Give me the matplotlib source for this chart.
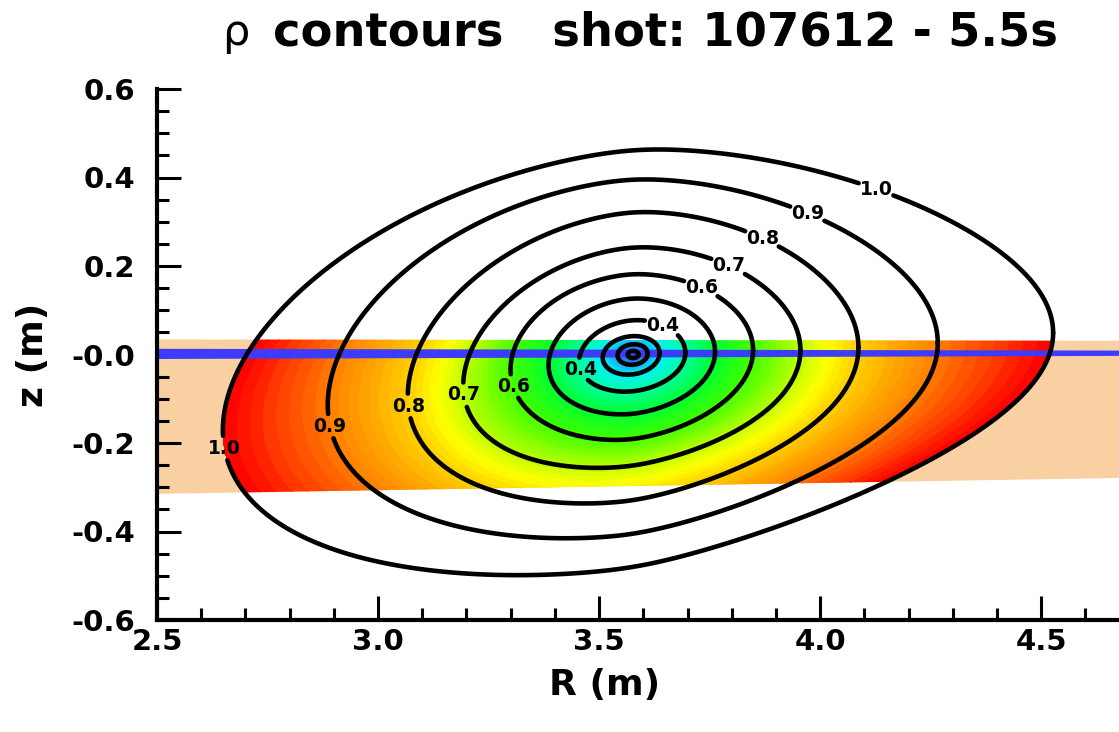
import numpy as np
import matplotlib
matplotlib.use("Agg")
import matplotlib.pyplot as plt
from matplotlib.colors import LinearSegmentedColormap
from matplotlib.patches import Polygon
from matplotlib.ticker import MultipleLocator

# ---------------- data ----------------
rho_levels  = [0.0, 0.1, 0.2, 0.3, 0.4, 0.5, 0.6, 0.7, 0.8, 0.9, 1.0]
flux_R0     = [3.577, 3.577, 3.576, 3.5725, 3.575, 3.574, 3.574, 3.574, 3.577, 3.576, 3.588]
flux_Z0     = [0.0, 0.0, 0.0, -0.002, -0.003, -0.004, -0.005, -0.005, -0.004, -0.005, -0.008]
half_width  = [0.0, 0.012, 0.034, 0.064, 0.120, 0.188, 0.274, 0.381, 0.509, 0.689, 0.939]
half_height = [0.0, 0.008, 0.023, 0.043, 0.080, 0.130, 0.186, 0.246, 0.325, 0.400, 0.470]
tilt        = [0.0, 0.0, 0.002, 0.005, 0.010, 0.015, 0.022, 0.040, 0.055, 0.070, 0.110]
droop       = [0.0, 0.0, 0.0, 0.0, -0.003, -0.005, -0.007, -0.025, -0.035, -0.039, -0.053]
pinch       = [0.0, 0.0, 0.0, 0.0, 0.03, 0.05, 0.08, 0.10, 0.14, 0.18, 0.24]

contour_levels = [0.1, 0.2, 0.3, 0.4, 0.5, 0.6, 0.7, 0.8, 0.9, 1.0]
labeled_levels = [0.4, 0.6, 0.7, 0.8, 0.9, 1.0]

# diagnostic strip (peach) and beam (blue)
strip_R      = [2.5, 4.68]
strip_top    = [0.034, 0.031]
strip_bottom = [-0.315, -0.279]
beam_R       = [2.5, 4.68]
beam_top     = [0.014, 0.010]
beam_bottom  = [-0.009, -0.002]

xtick_vals   = [2.5, 3.0, 3.5, 4.0, 4.5]
xtick_labels = ["2.5", "3.0", "3.5", "4.0", "4.5"]
ytick_vals   = [-0.6, -0.4, -0.2, 0.0, 0.2, 0.4, 0.6]
ytick_labels = ["-0.6", "-0.4", "-0.2", "-0.0", "0.2", "0.4", "0.6"]

title_sym  = "\u03c1"
title_text = "contours   shot: 107612 - 5.5s"
xlabel = "R (m)"
ylabel = "z (m)"

# ---------------- styling ----------------
plt.rcParams["font.family"] = ["DejaVu Sans"]
plt.rcParams["font.weight"] = "bold"

cmap = LinearSegmentedColormap.from_list(
    "rho",
    [(0.0, "#8a00e6"), (0.1, "#2e5ae8"), (0.2, "#1e9af0"), (0.3, "#00f0ff"),
     (0.4, "#00ffa0"), (0.5, "#00ff30"), (0.6, "#40ff00"), (0.7, "#b8ff00"),
     (0.75, "#ffff00"), (0.8, "#ffd000"), (0.9, "#ff8000"), (1.0, "#ff0000")])

fig = plt.figure(figsize=(11.19, 7.32), dpi=100)
ax = fig.add_axes([157 / 1119, 112 / 732, 962 / 1119, 531 / 732])
ax.set_xlim(2.5, 4.676)
ax.set_ylim(-0.6, 0.6)

# ---------------- flux-surface model ----------------
lev = np.array(rho_levels)
params = [np.array(v, float) for v in (flux_R0, flux_Z0, half_width, half_height, tilt, droop, pinch)]
lev_ext = np.append(lev, 1.1)
params_ext = [np.append(p, p[-1] + (p[-1] - p[-2])) for p in params]


def surface(rho, t):
    R0, Z0, a, b, T, D, e = [np.interp(rho, lev_ext, p) for p in params_ext]
    s = np.cos(t)
    w = 0.1
    f = 1.0 - e * (s + np.sqrt(s * s + w * w) - w) / 2.0
    return R0 + a * s, Z0 + T * s + D * s * s + b * np.sin(t) * f


rho_fine = np.concatenate([[0.0], np.arange(0.0025, 1.1, 0.005)])
theta = np.linspace(0, 2 * np.pi, 721)
RHO, TH = np.meshgrid(rho_fine, theta, indexing="ij")
RR, ZZ = surface(RHO, TH)

# peach strip
strip_poly = Polygon([(strip_R[0], strip_top[0]), (strip_R[1], strip_top[1]),
                      (strip_R[1], strip_bottom[1]), (strip_R[0], strip_bottom[0])],
                     closed=True, facecolor="#f9d0a2", edgecolor="none", zorder=1)
ax.add_patch(strip_poly)

cf = ax.contourf(RR, ZZ, RHO, levels=np.linspace(0, 1, 81), cmap=cmap, zorder=2)
cf.set_clip_path(strip_poly)

ax.fill_between(beam_R, beam_bottom, beam_top, color="#3c3cfa", lw=0, zorder=3)

plain_levels = [l for l in contour_levels if l not in labeled_levels]
cs_plain = ax.contour(RR, ZZ, RHO, levels=plain_levels, colors="black",
                      linewidths=3.3, zorder=4)
cs = ax.contour(RR, ZZ, RHO, levels=labeled_levels, colors="black",
                linewidths=3.3, zorder=4)
for c in (cs_plain, cs):
    c.set_capstyle("round")

upper_angle = np.deg2rad(55)
lower_angles = np.deg2rad([194, 192, 185, 184, 187, 185])
upper_pos = [tuple(np.array(surface(l, upper_angle)).tolist()) for l in labeled_levels]
lower_pos = [tuple(np.array(surface(l, la)).tolist())
             for l, la in zip(labeled_levels, lower_angles)]

label_size = 13.5
upper_labels = list(ax.clabel(cs, manual=upper_pos, inline=True,
                              inline_spacing=2, fmt="%.1f", fontsize=label_size))
# labels on the near-vertical inboard legs: the gap only needs the text height
lower_labels = list(ax.clabel(cs, manual=lower_pos, inline=True,
                              inline_spacing=2, fmt="%.1f", fontsize=8.5))
for t in upper_labels + lower_labels:
    t.set_fontsize(label_size)
    t.set_fontweight("bold")
    t.set_rotation(0)
    t.set_zorder(5)

# ---------------- axes styling ----------------
for side in ("top", "right"):
    ax.spines[side].set_visible(False)
for side in ("left", "bottom"):
    ax.spines[side].set_linewidth(3.0)
    ax.spines[side].set_zorder(6)

ax.set_xticks(xtick_vals)
ax.set_xticklabels(xtick_labels)
ax.set_yticks(ytick_vals)
ax.set_yticklabels(ytick_labels)
ax.xaxis.set_minor_locator(MultipleLocator(0.1))
ax.yaxis.set_minor_locator(MultipleLocator(0.05))
ax.tick_params(which="major", direction="in", length=17, width=2.2, labelsize=21)
ax.tick_params(which="minor", direction="in", length=8.5, width=2.2)
ax.tick_params(axis="y", which="major", pad=16)
ax.tick_params(axis="x", which="major", pad=6)

ax.set_xlabel(xlabel, fontsize=26, fontweight="bold")
ax.set_ylabel(ylabel, fontsize=26, fontweight="bold")
ax.xaxis.set_label_coords((605 - 157) / 962, -0.09)
ax.yaxis.set_label_coords((50 - 157) / 962, 0.5)

fig.text(222 / 1119, 1 - 45 / 732, title_sym, fontsize=31, fontweight="normal",
         ha="left", va="baseline")
fig.text(273 / 1119, 1 - 45 / 732, title_text, fontsize=33.5, fontweight="bold",
         ha="left", va="baseline")

fig.savefig("out.png", dpi=100)
